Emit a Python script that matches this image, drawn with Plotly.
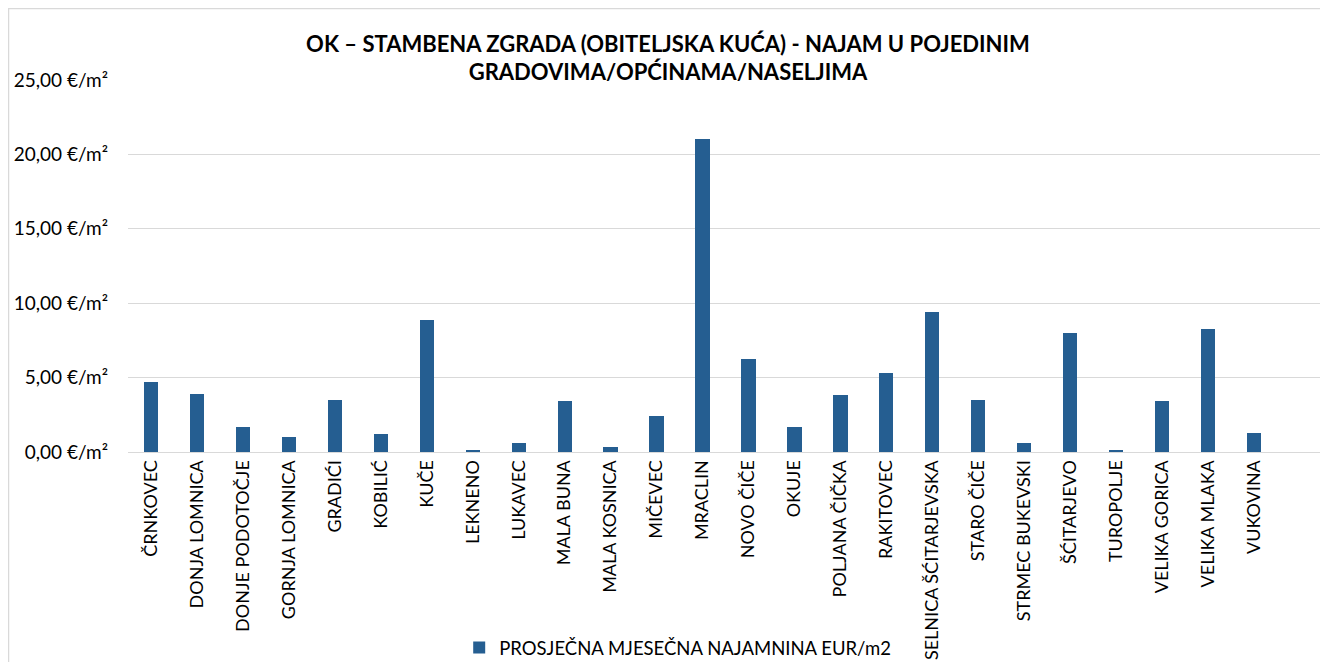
import plotly.graph_objects as go

categories = ["ČRNKOVEC", "DONJA LOMNICA", "DONJE PODOTOČJE", "GORNJA LOMNICA", "GRADIĆI",
              "KOBILIĆ", "KUČE", "LEKNENO", "LUKAVEC", "MALA BUNA", "MALA KOSNICA",
              "MIČEVEC", "MRACLIN", "NOVO ČIČE", "OKUJE", "POLJANA ČIČKA", "RAKITOVEC",
              "SELNICA ŠĆITARJEVSKA", "STARO ČIČE", "STRMEC BUKEVSKI", "ŠĆITARJEVO",
              "TUROPOLJE", "VELIKA GORICA", "VELIKA MLAKA", "VUKOVINA"]
values = [4.70, 3.89, 1.70, 1.01, 3.51, 1.23, 8.86, 0.13, 0.58, 3.42, 0.36, 2.42, 21.05,
          6.22, 1.68, 3.85, 5.32, 9.40, 3.51, 0.62, 8.01, 0.09, 3.44, 8.26, 1.28]
series_name = "PROSJEČNA MJESEČNA NAJAMNINA EUR/m2"
y_tickvals = [0, 5, 10, 15, 20, 25]
y_ticktext = ["0,00 €/m²", "5,00 €/m²", "10,00 €/m²", "15,00 €/m²", "20,00 €/m²", "25,00 €/m²"]
title_text = "OK – STAMBENA ZGRADA (OBITELJSKA KUĆA) - NAJAM U POJEDINIM<br>GRADOVIMA/OPĆINAMA/NASELJIMA"

FONT = "Lato"
fig = go.Figure()
fig.add_trace(go.Bar(
    x=categories, y=values, name=series_name,
    marker=dict(color="#255E91", line=dict(width=0)),
    width=0.31, showlegend=True,
))

# page body has an 8px default margin; figure sized to fit the 1328x670 window without scrollbars
fig.update_layout(
    width=1320, height=654,
    margin=dict(l=120, r=5, t=72, b=210, autoexpand=False),
    paper_bgcolor="white", plot_bgcolor="white",
    font=dict(family=FONT, color="#000000", size=18),
    title=dict(text="<b>" + title_text + "</b>", x=0.5, xref="container", xanchor="center",
               y=0.933, yanchor="top", font=dict(family=FONT, size=22, color="#000000")),
    showlegend=True,
    legend=dict(orientation="h", x=0.46, xanchor="center", y=-0.527, yanchor="middle",
                font=dict(family=FONT, size=18.5, color="#000000"), itemwidth=30),
    bargap=0,
)
fig.update_xaxes(
    type="category", range=[-0.5, 25.5], tickangle=-90, showgrid=False,
    showline=True, linecolor="#D9D9D9", linewidth=1, ticks="", ticklen=0,
    tickfont=dict(family=FONT, size=18, color="#000000"), automargin=False,
)
fig.update_yaxes(
    range=[0, 25], tickvals=y_tickvals, ticktext=y_ticktext,
    showgrid=True, gridcolor="#D9D9D9", gridwidth=1, zeroline=False,
    showline=False, ticks="", ticklabelstandoff=19, automargin=False,
    tickfont=dict(family=FONT, size=19, color="#000000"),
)
fig.add_shape(type="rect", xref="paper", yref="paper",
              x0=-0.1, x1=0.9992, y0=-0.7, y1=1.192,
              line=dict(color="#D9D9D9", width=1.5), fillcolor="rgba(0,0,0,0)", layer="below")

fig.write_html("out.html")
